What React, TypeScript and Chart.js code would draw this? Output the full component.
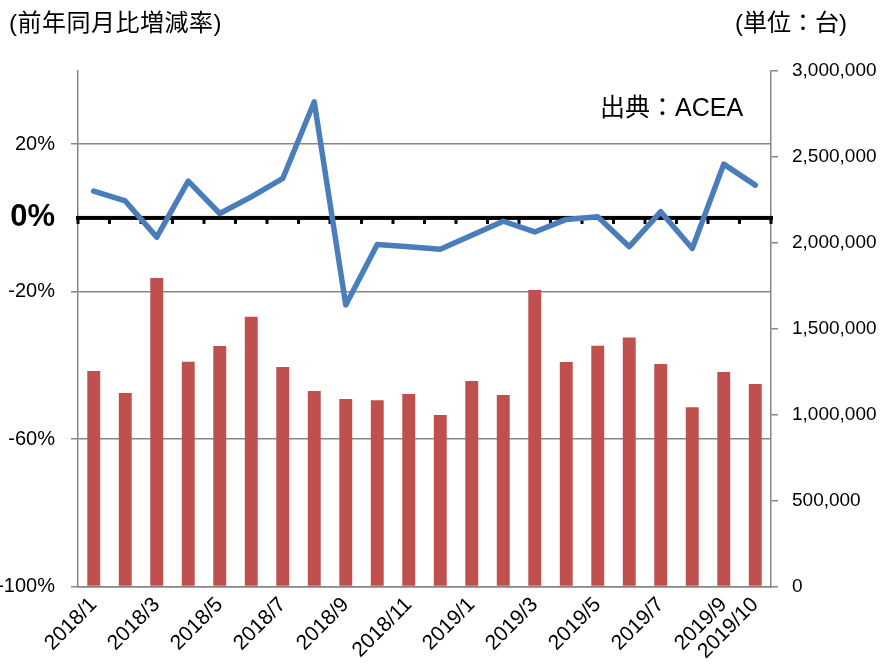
import React, { useEffect, useRef } from 'react';
import { Chart, registerables } from 'chart.js';

Chart.register(...registerables);

const categories = [
  '2018/1', '2018/2', '2018/3', '2018/4', '2018/5', '2018/6', '2018/7', '2018/8', '2018/9', '2018/10', '2018/11', '2018/12',
  '2019/1', '2019/2', '2019/3', '2019/4', '2019/5', '2019/6', '2019/7', '2019/8', '2019/9', '2019/10',
];

// Monthly registrations (units, right axis)
const salesUnits = [
  1253000, 1125000, 1793000, 1307000, 1398000, 1569000, 1276000, 1137000, 1090000, 1083000, 1119000, 997000,
  1195000, 1113000, 1724000, 1305000, 1400000, 1447000, 1294000, 1042000, 1247000, 1177000,
];

// Year-over-year change (%, left axis)
const yoyChange = [
  7.3, 4.6, -5.2, 10.0, 1.2, 5.7, 10.7, 31.5, -23.6, -7.2, -7.8, -8.5,
  -4.7, -0.9, -3.8, -0.4, 0.3, -7.8, 1.7, -8.3, 14.6, 8.9,
];

const leftTicks = [-100, -60, -20, 0, 20];
const leftMin = -100;
const leftMax = 40;
const rightMax = 3000000;
const rightStep = 500000;

const FONT = '"Liberation Sans", Arial, "Noto Sans CJK JP", sans-serif';
const GRID = '#868686';

const zeroLinePlugin = {
  id: 'zeroLine',
  beforeDatasetsDraw(chart: any) {
    const { ctx, chartArea, scales } = chart;
    const y = scales.y.getPixelForValue(0);
    const n = categories.length;
    const w = (chartArea.right - chartArea.left) / n;
    ctx.save();
    ctx.fillStyle = '#000';
    ctx.fillRect(chartArea.left - 2, y - 2, chartArea.right - chartArea.left + 4, 4);
    for (let k = 0; k <= n; k++) {
      const x = chartArea.left + k * w;
      ctx.fillRect(x - 1.5, y, 3, 6);
    }
    ctx.restore();
  },
};

export default function App() {
  const canvasRef = useRef<HTMLCanvasElement | null>(null);

  useEffect(() => {
    if (!canvasRef.current) return;
    const chart = new Chart(canvasRef.current, {
      type: 'bar',
      data: {
        labels: categories,
        datasets: [
          {
            type: 'line',
            label: '前年同月比増減率',
            data: yoyChange,
            yAxisID: 'y',
            borderColor: '#4A7EBB',
            backgroundColor: '#4A7EBB',
            borderWidth: 5.5,
            pointRadius: 0,
            tension: 0,
            borderJoinStyle: 'round',
            borderCapStyle: 'round',
            order: 0,
          } as any,
          {
            type: 'bar',
            label: '台数',
            data: salesUnits,
            yAxisID: 'y1',
            backgroundColor: '#C0504D',
            barPercentage: 0.41,
            categoryPercentage: 1,
            order: 1,
          } as any,
        ],
      },
      options: {
        animation: false,
        responsive: true,
        maintainAspectRatio: false,
        layout: { padding: { top: 70.5, left: 0, right: 0, bottom: 0 } },
        plugins: {
          legend: { display: false },
          tooltip: { enabled: false },
          title: { display: false },
        },
        scales: {
          x: {
            offset: true,
            grid: { display: false },
            border: { display: true, color: GRID, width: 1.5 },
            ticks: {
              autoSkip: false,
              maxRotation: 45,
              minRotation: 45,
              padding: -2,
              color: '#000',
              font: { family: FONT, size: 21 },
              callback: (_v: any, idx: number) =>
                idx % 2 === 0 || idx === categories.length - 1 ? categories[idx] : '',
            },
            afterFit: (s: any) => {
              s.height = 81.5;
            },
          },
          y: {
            position: 'left',
            min: leftMin,
            max: leftMax,
            afterBuildTicks: (s: any) => {
              s.ticks = leftTicks.map((v) => ({ value: v }));
            },
            afterFit: (s: any) => {
              s.width = 78;
            },
            grid: {
              color: (c: any) => (c.tick && c.tick.value === 0 ? 'rgba(0,0,0,0)' : GRID),
              tickColor: (c: any) => (c.tick && c.tick.value === 0 ? 'rgba(0,0,0,0)' : GRID),
              lineWidth: 1.5,
              tickLength: 7,
            },
            border: { display: true, color: GRID, width: 1.5 },
            ticks: {
              padding: 16,
              color: '#000',
              font: (c: any) =>
                c.tick && c.tick.value === 0
                  ? { family: FONT, size: 31, weight: 'bold' }
                  : { family: FONT, size: 20 },
              callback: (v: any) => v + '%',
            },
          },
          y1: {
            position: 'right',
            min: 0,
            max: rightMax,
            afterFit: (s: any) => {
              s.width = 112;
            },
            grid: { drawOnChartArea: false, color: GRID, lineWidth: 1.5, tickLength: 7 },
            border: { display: true, color: GRID, width: 1.5 },
            ticks: {
              stepSize: rightStep,
              padding: 14,
              color: '#000',
              font: { family: FONT, size: 19 },
              callback: (v: any) => Number(v).toLocaleString('en-US'),
            },
          },
        },
      } as any,
      plugins: [zeroLinePlugin],
    });
    return () => chart.destroy();
  }, []);

  return (
    <div style={{ position: 'fixed', left: 0, top: 0, width: 883, height: 668, background: '#fff' }}>
      <canvas ref={canvasRef} />
      <div
        style={{
          position: 'absolute', left: 9, top: 10, fontFamily: FONT, fontSize: 24, lineHeight: '26px',
          letterSpacing: 0.5, color: '#000', whiteSpace: 'nowrap',
        }}
      >
        (前年同月比増減率)
      </div>
      <div
        style={{
          position: 'absolute', left: 735, top: 10, fontFamily: FONT, fontSize: 24, lineHeight: '26px',
          color: '#000', whiteSpace: 'nowrap',
        }}
      >
        (単位：台)
      </div>
      <div
        style={{
          position: 'absolute', left: 600, top: 94, fontFamily: FONT, fontSize: 25, lineHeight: '27px',
          color: '#000', whiteSpace: 'nowrap',
        }}
      >
        出典：ACEA
      </div>
    </div>
  );
}
